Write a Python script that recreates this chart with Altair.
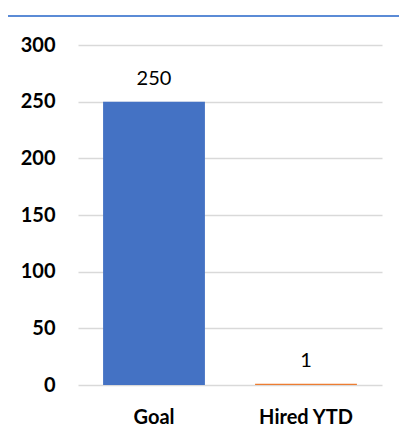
import altair as alt
import pandas as pd

categories = ["Goal", "Hired YTD"]
values = [250, 1]
colors = ["#4472C4", "#ED7D31"]
y_ticks = [0, 50, 100, 150, 200, 250, 300]

df = pd.DataFrame({"category": categories, "value": values})

FONT = "Lato"

base = alt.Chart(df).encode(
    x=alt.X(
        "category:N",
        sort=None,
        title=None,
        scale=alt.Scale(paddingInner=0.33, paddingOuter=0.165),
        axis=alt.Axis(
            labelAngle=0,
            labelFont=FONT,
            labelFontSize=20,
            labelFontWeight="bold",
            labelColor="#000000",
            labelPadding=22,
            domain=False,
            ticks=False,
            grid=False,
        ),
    ),
    y=alt.Y(
        "value:Q",
        title=None,
        scale=alt.Scale(domain=[0, 300], nice=False),
        axis=alt.Axis(
            values=y_ticks,
            labelFont=FONT,
            labelFontSize=20,
            labelFontWeight="bold",
            labelColor="#000000",
            labelPadding=23,
            domain=False,
            ticks=False,
            grid=True,
            gridColor="#D9D9D9",
            gridWidth=1.5,
        ),
    ),
)

bars = base.mark_bar().encode(
    color=alt.Color(
        "category:N",
        scale=alt.Scale(domain=categories, range=colors),
        legend=None,
    )
)

labels = base.mark_text(
    baseline="alphabetic", dy=-17, font=FONT, fontSize=20, color="#000000"
).encode(text="value:Q")

frame_top = alt.Chart(df).mark_rule(color="#5B8BD6", strokeWidth=2).encode(
    x=alt.value(-70), x2=alt.value(330), y=alt.value(-29), y2=alt.value(-29)
)

chart = (
    alt.layer(bars, labels, frame_top)
    .properties(
        width=304,
        height=340,
        padding={"left": 70, "top": 37, "right": 17, "bottom": 46},
        autosize=alt.AutoSizeParams(type="none"),
        view=alt.ViewBackground(stroke="#FFFFFF", strokeOpacity=0, strokeWidth=0),
    )
    .configure_view(strokeOpacity=0, strokeWidth=0)
    .configure_axisX(grid=False)
    .configure(background="#FFFFFF")
)

chart.save("out.html", embed_options={"renderer": "svg", "actions": False})
